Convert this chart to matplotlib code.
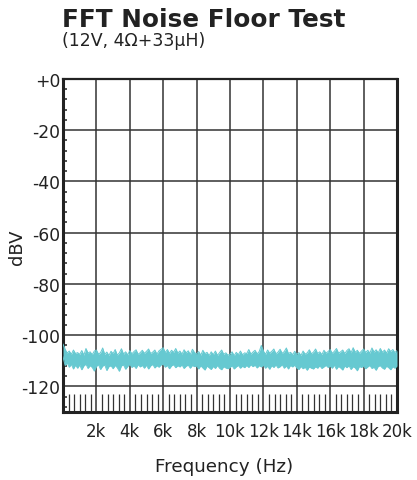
import numpy as np
import matplotlib
matplotlib.use("Agg")
import matplotlib.pyplot as plt
from matplotlib.ticker import FixedLocator

plt.rcParams['font.family'] = ['DejaVu Sans']

title = "FFT Noise Floor Test"
subtitle = "(12V, 4\u03a9+33\u03bcH)"
xlabel = "Frequency (Hz)"
ylabel = "dBV"

x_ticks = [2000, 4000, 6000, 8000, 10000, 12000, 14000, 16000, 18000, 20000]
x_ticklabels = ["2k", "4k", "6k", "8k", "10k", "12k", "14k", "16k", "18k", "20k"]
y_ticks = [0, -20, -40, -60, -80, -100, -120]
y_ticklabels = ["+0", "-20", "-40", "-60", "-80", "-100", "-120"]

# frequency grid of the envelope readings (kHz), 0..20k step 0.125k
freq_khz = [i * 0.125 for i in range(161)]

noise_upper = [
    -103.5, -105.5, -107.0, -106.2, -107.5, -105.8, -107.2, -106.8,
    -107.5, -106.0, -107.8, -105.2, -107.0, -106.5, -107.6, -106.2,
    -105.8, -107.4, -106.8, -105.0, -107.5, -106.6, -107.9, -106.3,
    -107.2, -105.6, -107.8, -106.9, -105.3, -107.4, -106.5, -107.7,
    -106.0, -107.3, -106.4, -105.7, -107.5, -106.8, -105.9, -107.1,
    -106.3, -105.4, -107.2, -106.6, -105.8, -107.4, -106.1, -105.5,
    -104.9, -106.8, -105.6, -107.1, -105.9, -106.7, -105.2, -107.0,
    -106.2, -107.4, -105.7, -106.9, -106.1, -107.6, -105.5, -106.8,
    -107.3, -106.4, -107.8, -105.9, -107.2, -106.7, -108.0, -106.5,
    -107.6, -106.2, -107.9, -106.8, -105.8, -107.5, -106.9, -107.8,
    -107.4, -106.5, -108.0, -106.7, -107.6, -106.2, -107.7, -106.9,
    -107.2, -105.6, -107.4, -106.6, -105.9, -107.3, -106.4, -104.0,
    -106.2, -107.5, -105.8, -107.0, -106.3, -105.4, -107.3, -106.6,
    -105.5, -107.1, -106.4, -105.0, -107.2, -106.7, -107.6, -106.3,
    -107.5, -106.8, -107.9, -106.2, -107.4, -106.9, -105.7, -107.3,
    -106.6, -105.4, -107.2, -106.5, -107.6, -105.9, -107.0, -106.4,
    -105.6, -107.1, -106.3, -105.2, -107.0, -106.5, -105.8, -107.2,
    -106.0, -105.3, -106.9, -104.9, -106.7, -105.9, -107.1, -106.2,
    -105.4, -106.8, -105.9, -107.0, -105.0, -106.6, -105.7, -106.9,
    -105.2, -106.7, -105.8, -107.0, -105.3, -106.4, -105.6, -106.8,
    -106.0,
]
noise_lower = [
    -108.5, -111.8, -110.9, -112.5, -111.4, -113.2, -111.7, -112.9,
    -111.6, -113.5, -112.0, -111.3, -113.0, -111.9, -112.6, -114.0,
    -112.2, -111.5, -113.4, -112.1, -111.6, -113.8, -112.3, -111.9,
    -113.1, -111.8, -112.7, -114.1, -112.0, -111.6, -113.3, -112.2,
    -111.4, -112.6, -111.9, -113.0, -111.5, -112.4, -111.8, -112.9,
    -111.7, -113.2, -112.0, -111.4, -112.8, -111.9, -112.5, -111.6,
    -111.3, -112.5, -111.8, -113.1, -112.0, -111.5, -112.7, -111.9,
    -112.4, -111.6, -113.0, -112.1, -111.7, -112.9, -111.8, -112.3,
    -112.0, -113.2, -111.9, -112.8, -113.6, -112.1, -112.7, -113.4,
    -112.2, -113.0, -111.8, -112.9, -113.5, -112.3, -112.8, -113.1,
    -112.6, -111.9, -113.2, -112.4, -111.8, -112.9, -112.1, -112.7,
    -111.8, -112.6, -111.5, -112.3, -111.7, -112.8, -111.9, -112.4,
    -111.7, -112.9, -112.1, -113.3, -111.9, -112.6, -111.6, -112.8,
    -112.3, -111.5, -112.9, -112.0, -113.2, -111.8, -112.4, -111.7,
    -112.8, -113.4, -112.2, -113.1, -112.5, -113.7, -112.4, -112.9,
    -113.2, -112.3, -112.9, -111.9, -113.0, -112.4, -111.8, -112.6,
    -112.1, -112.9, -111.7, -113.3, -112.2, -112.8, -113.6, -112.0,
    -112.7, -111.9, -113.4, -112.3, -112.8, -113.9, -112.2, -112.6,
    -112.0, -113.1, -112.4, -111.8, -113.0, -112.5, -113.7, -112.2,
    -111.9, -112.8, -113.3, -112.1, -112.7, -113.5, -112.3, -112.9,
    -112.0,
]

W, H = 417, 481
fig = plt.figure(figsize=(W / 100, H / 100), dpi=100)
ax = fig.add_axes([63 / W, 1 - 413 / H, (397 - 63) / W, (413 - 80) / H])

f_hz = np.array(freq_khz) * 1000
color = "#66C9D1"
ax.fill_between(f_hz, noise_lower, noise_upper, color=color, lw=0, zorder=3)
ax.plot(f_hz, noise_upper, color=color, lw=0.7, zorder=3)
ax.plot(f_hz, noise_lower, color=color, lw=0.7, zorder=3)

ax.set_xlim(0, 20000)
ax.set_ylim(-130, 0)

ax.xaxis.set_major_locator(FixedLocator(x_ticks))
ax.set_xticklabels(x_ticklabels)
ax.yaxis.set_major_locator(FixedLocator(y_ticks))
ax.set_yticklabels(y_ticklabels)

minor_x = [k * 2000 + j * 2000 / 6 for k in range(10) for j in range(1, 6)]
ax.xaxis.set_minor_locator(FixedLocator(minor_x))
minor_y = [v for v in np.arange(-128, 0, 4) if v % 20 != 0]
ax.yaxis.set_minor_locator(FixedLocator(minor_y))

ax.grid(True, which='major', color="#333333", lw=1.1, zorder=1)
ax.set_axisbelow(True)

ax.tick_params(axis='x', which='major', length=0, pad=7, labelsize=12, colors="#222222")
ax.tick_params(axis='x', which='minor', direction='in', length=13, width=0.9, color="#333333")
ax.tick_params(axis='y', which='major', length=0, pad=2, labelsize=12.3, colors="#222222")
ax.tick_params(axis='y', which='minor', direction='in', length=3, width=1.1, color="#222222")

for s in ['left', 'bottom', 'right']:
    ax.spines[s].set_linewidth(2.2)
    ax.spines[s].set_color("#222222")
ax.spines['top'].set_linewidth(1.6)
ax.spines['top'].set_color("#222222")

fig.text(62 / W, 1 - 27 / H, title, fontsize=17.8, fontweight='bold', color="#222222", va='baseline', ha='left')
fig.text(62 / W, 1 - 46 / H, subtitle, fontsize=12.5, color="#222222", va='baseline', ha='left')
fig.text(224 / W, 1 - 472 / H, xlabel, fontsize=13.2, color="#222222", va='baseline', ha='center')
fig.text(17 / W, 1 - 247 / H, ylabel, fontsize=13, color="#222222", va='center', ha='center', rotation=90)

fig.savefig("out.png", dpi=100)
